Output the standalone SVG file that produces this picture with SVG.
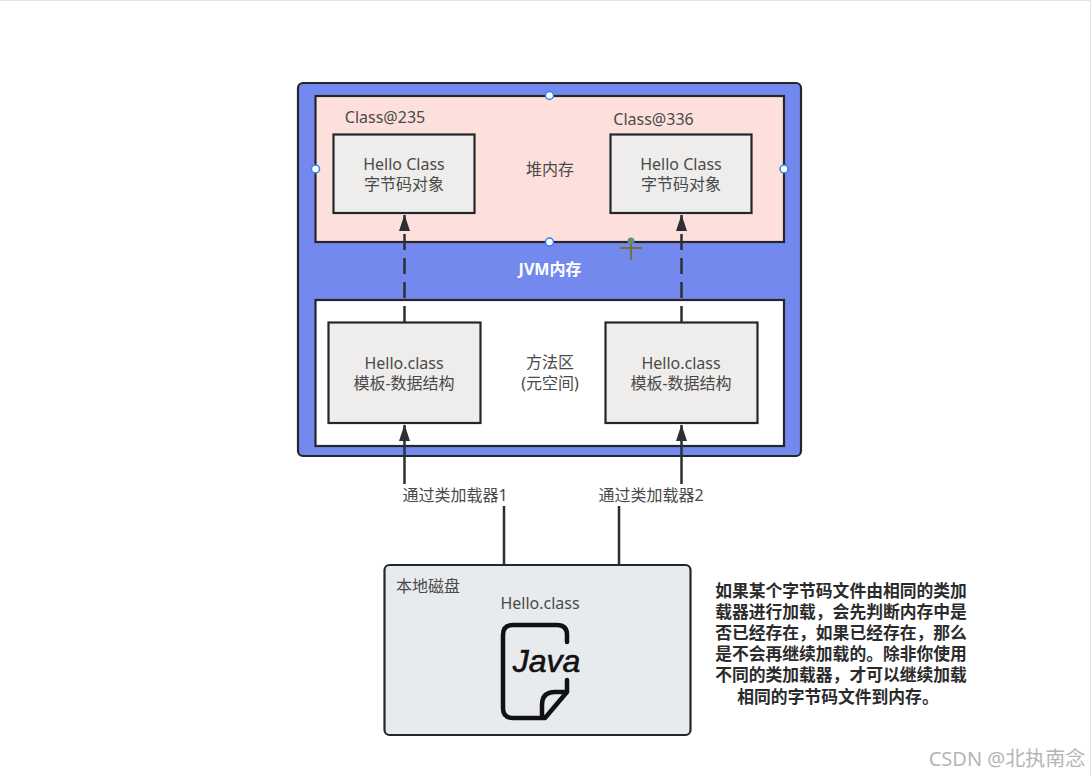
<svg xmlns="http://www.w3.org/2000/svg" width="1092" height="776" viewBox="0 0 1092 776">
<style>
text{font-family:"Noto Sans","Noto Sans CJK SC",sans-serif;font-size:16px;fill:#4a4a4a;text-anchor:middle}
.l{fill:none;stroke:#2c2f33;stroke-width:2.5}
.b{stroke:#23262b;stroke-width:2.2}
.o{fill:#eeedeb}
.h{fill:#fff;stroke:#2f80ed;stroke-width:1.5}
.t{font-size:16.800px;font-weight:700;fill:#2b2b2b}
</style>
<defs>
<marker id="a" markerUnits="userSpaceOnUse" markerWidth="18" markerHeight="12" refX="17" refY="6" orient="auto" viewBox="0 0 18 12"><path d="M17.500 6L1 11.500V.5Z" fill="#2c2f33"/></marker>
</defs>
<rect width="1092" height="776" fill="#fff"/>
<path d="M0 .5H1090.500V776" fill="none" stroke="#e4e4e4"/>
<g id="jvm">
<rect class="b" x="298" y="83" width="503" height="373" rx="5" fill="#7389ee"/>
<text x="550" y="275" style="font-size:16px;font-weight:700;fill:#fff">JVM内存</text>
</g>
<g id="heap">
<rect class="b" x="315.500" y="96" width="468.500" height="146" fill="#fde0dc"/>
<text x="550" y="175">堆内存</text>
<circle class="h" cx="549.500" cy="95.500" r="4"/><circle class="h" cx="549.500" cy="242" r="4"/><circle class="h" cx="315.500" cy="169" r="4"/><circle class="h" cx="784" cy="169" r="4"/>
</g>
<g id="method-area">
<rect class="b" x="315.500" y="300" width="468.500" height="146" fill="#fff"/>
<text x="550" y="368">方法区</text>
<text x="550" y="389">(元空间)</text>
</g>
<g id="class-235">
<text x="385" y="123">Class@235</text>
<rect class="b o" x="333.500" y="134.500" width="141" height="78.500"/>
<text x="404" y="170">Hello Class</text><text x="404" y="190">字节码对象</text>
</g>
<g id="class-336">
<text x="653.500" y="125">Class@336</text>
<rect class="b o" x="610.500" y="134.500" width="141" height="78.500"/>
<text x="681" y="170">Hello Class</text><text x="681" y="190">字节码对象</text>
</g>
<g id="template-1">
<rect class="b o" x="328.500" y="322.500" width="152" height="100.500"/>
<text x="404" y="369">Hello.class</text><text x="404" y="389">模板-数据结构</text>
</g>
<g id="template-2">
<rect class="b o" x="605.500" y="322.500" width="152" height="100.500"/>
<text x="681" y="369">Hello.class</text><text x="681" y="389">模板-数据结构</text>
</g>
<g id="disk">
<rect class="b" x="384.500" y="565" width="306" height="170" rx="5" fill="#e8ebed"/>
<text x="428" y="592">本地磁盘</text>
<text x="540" y="609">Hello.class</text>
<path d="M567 642V635Q567 625 557 625H513Q503 625 503 635V708Q503 718 513 718H545L567 692V680M542 718V705Q542 692 555 692H567" fill="none" stroke="#111" stroke-width="4.500" stroke-linecap="round" stroke-linejoin="round"/>
<text x="546.500" y="672" style="font-family:'Liberation Sans',sans-serif;font-size:32px;font-style:italic;font-weight:400;fill:#111;stroke:#111;stroke-width:.6">Java</text>
</g>
<g id="connectors">
<path class="l" d="M404.500 322V215" stroke-dasharray="16 8" marker-end="url(#a)"/>
<path class="l" d="M681.500 322V215" stroke-dasharray="16 8" marker-end="url(#a)"/>
<path class="l" d="M404.500 484V425" marker-end="url(#a)"/>
<path class="l" d="M681.500 484V425" marker-end="url(#a)"/>
<path class="l" d="M504 506V565M619 506V565"/>
<text x="455" y="501">通过类加载器1</text>
<text x="651" y="501">通过类加载器2</text>
</g>
<g id="note">
<text class="t" x="841" y="596.500">如果某个字节码文件由相同的类加</text>
<text class="t" x="841" y="617.500">载器进行加载，会先判断内存中是</text>
<text class="t" x="841" y="638.500">否已经存在，如果已经存在，那么</text>
<text class="t" x="841" y="660">是不会再继续加载的。除非你使用</text>
<text class="t" x="841" y="681">不同的类加载器，才可以继续加载</text>
<text class="t" x="838" y="702.500">相同的字节码文件到内存。</text>
</g>
<text x="1007" y="766" style="font-size:20px;fill:#b5b5b5">CSDN @北执南念</text>
<g id="cursor"><path d="M631 240V260M620 248H642" stroke="#7a7030" stroke-width="2" fill="none"/><circle cx="631" cy="241" r="3.500" fill="#5f8f8f"/></g>
</svg>
